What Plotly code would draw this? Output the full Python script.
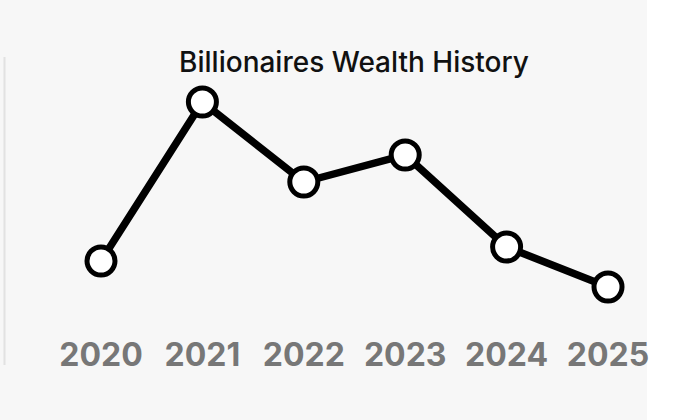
import plotly.graph_objects as go

years = [2020, 2021, 2022, 2023, 2024, 2025]
tick_labels = ["2020", "2021", "2022", "2023", "2024", "2025"]
wealth = [13.9, 29.8, 21.8, 24.5, 15.3, 11.3]

W, H = 694, 420
fig = go.Figure()
fig.add_trace(go.Scatter(
    x=years, y=wealth, mode="lines+markers",
    line=dict(color="black", width=7.5),
    marker=dict(size=28, color="white", line=dict(color="black", width=5)),
    hoverinfo="skip", cliponaxis=False,
))

T, B = 40, 330
fig.update_layout(
    width=W, height=H,
    margin=dict(l=0, r=0, t=T, b=H - B),
    paper_bgcolor="white",
    plot_bgcolor="rgba(0,0,0,0)",
    showlegend=False,
    title=dict(text="Billionaires Wealth History", x=354 / W, xanchor="center",
               y=1 - 62 / H, yanchor="middle",
               font=dict(family="Inter", size=28, color="#111111", weight=500)),
    xaxis=dict(range=[2019.004, 2025.848], tickvals=years, ticktext=tick_labels,
               showgrid=False, zeroline=False, showline=False, ticks="",
               ticklabelstandoff=3,
               tickfont=dict(family="Inter", size=32, color="#777777", weight=700)),
    yaxis=dict(range=[(400 - B) / 10, (400 - T) / 10], visible=False, showgrid=False),
    shapes=[
        dict(type="rect", xref="paper", yref="paper", x0=0, x1=647 / W,
             y0=-(H - B) / (B - T), y1=1 + T / (B - T),
             fillcolor="#f7f7f7", line=dict(width=0), layer="below"),
        dict(type="line", xref="paper", yref="paper", x0=4.5 / W, x1=4.5 / W,
             y0=(B - 365) / (B - T), y1=(B - 57) / (B - T),
             line=dict(color="#e2e2e2", width=2), layer="below"),
    ],
)
fig.write_html("out.html", config={"displayModeBar": False},
               post_script="document.body.style.margin='0';")
